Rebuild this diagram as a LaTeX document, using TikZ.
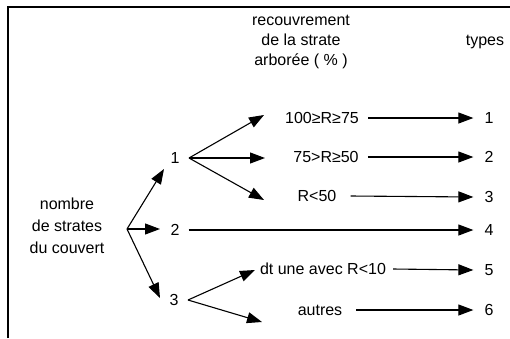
\documentclass[tikz,border=0pt]{standalone}
\usepackage{fontspec}
\setmainfont{Liberation Sans}
\usetikzlibrary{arrows.meta}
\begin{document}
\begin{tikzpicture}[x=1pt,y=-1pt,
  lbl/.style={inner sep=0pt, font=\fontsize{16}{20}\selectfont},
  arr/.style={line width=1.1pt, -{Triangle[length=15pt,width=11pt]}},
  frame/.style={line width=1.1pt}]
\useasboundingbox (0,0) rectangle (510,338);
% frame (top and left sides)
\draw[frame] (8,338) -- (8,7) -- (510,7);
% headers
\node[lbl, align=center] (hdr) at (301,42) {recouvrement\\de la strate\\arborée ( \% )};
\node[lbl] (types) at (485,42) {types};
% root
\node[lbl, align=center, font=\fontsize{16}{22}\selectfont] (root) at (67,226) {nombre\\de strates\\du couvert};
\coordinate (b0) at (127,229);
% first level
\node[lbl] (n1) at (175,158) {1};
\node[lbl] (n2) at (175,230) {2};
\node[lbl] (n3) at (174,300) {3};
\coordinate (t01) at (164,169);
\coordinate (t02) at (160,229);
\coordinate (t03) at (160,298);
\draw[arr] (b0) -- (t01);
\draw[arr] (b0) -- (t02);
\draw[arr] (b0) -- (t03);
% second level from 1
\coordinate (b1) at (189,158);
\coordinate (t11) at (264,115);
\coordinate (t12) at (265,158);
\coordinate (t13) at (264,200);
\draw[arr] (b1) -- (t11);
\draw[arr] (b1) -- (t12);
\draw[arr] (b1) -- (t13);
\node[lbl] (r1) at (322,118) {100≥R≥75};
\node[lbl] (r2) at (326,157) {75>R≥50};
\node[lbl] (r3) at (317,196) {R<50};
% second level from 3
\coordinate (b3) at (188,300);
\coordinate (t31) at (255,270);
\coordinate (t32) at (262,322);
\draw[arr] (b3) -- (t31);
\draw[arr] (b3) -- (t32);
\node[lbl] (r5) at (323,269) {dt une avec R<10};
\node[lbl] (r6) at (320,310) {autres};
% types
\node[lbl] (y1) at (489,118) {1};
\node[lbl] (y2) at (489,157) {2};
\node[lbl] (y3) at (489,197) {3};
\node[lbl] (y4) at (489,230) {4};
\node[lbl] (y5) at (489,270) {5};
\node[lbl] (y6) at (489,310) {6};
\draw[arr] ([xshift=9pt]r1.east) -- ([xshift=-11pt]y1.west);
\draw[arr] ([xshift=9pt]r2.east) -- ([xshift=-11pt]y2.west);
\draw[arr] ([xshift=14pt]r3.east) -- ([xshift=-11pt]y3.west);
\draw[arr] ([xshift=9pt]n2.east) -- ([xshift=-11pt]y4.west);
\draw[arr] ([xshift=7pt]r5.east) -- ([xshift=-11pt]y5.west);
\draw[arr] ([xshift=14pt]r6.east) -- ([xshift=-11pt]y6.west);
\end{tikzpicture}
\end{document}
